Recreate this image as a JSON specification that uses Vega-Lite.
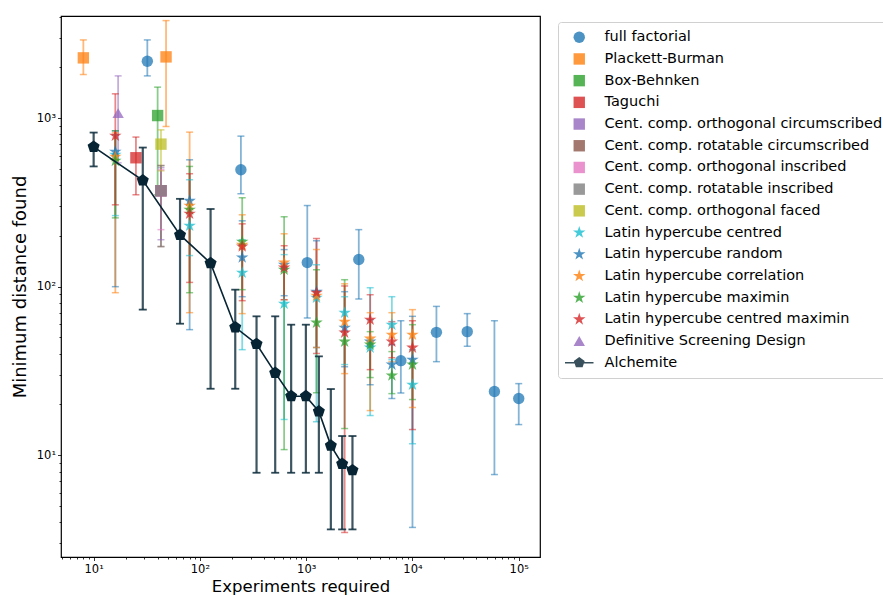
{
  "$schema": "https://vega.github.io/schema/vega-lite/v6.json",
  "width": 479,
  "height": 541,
  "autosize": {"type": "none"},
  "padding": {"left": 61, "top": 16, "right": 343, "bottom": 38},
  "background": "white",
  "config": {
    "font": "DejaVu Sans",
    "view": {"stroke": "#000", "strokeWidth": 1.2}
  },
  "datasets": {
    "d": [
      {"s": "full factorial", "x": 32, "y": 2177, "lo": 1781, "hi": 2911},
      {"s": "full factorial", "x": 243, "y": 494, "lo": 356, "hi": 782},
      {"s": "full factorial", "x": 1024, "y": 139, "lo": 65.2, "hi": 303},
      {"s": "full factorial", "x": 3125, "y": 145, "lo": 84.5, "hi": 218},
      {"s": "full factorial", "x": 7776, "y": 36.4, "lo": 23.4, "hi": 62.8},
      {"s": "full factorial", "x": 16807, "y": 53.6, "lo": 35.9, "hi": 76.4},
      {"s": "full factorial", "x": 32768, "y": 54.1, "lo": 44.3, "hi": 69.2},
      {"s": "full factorial", "x": 59049, "y": 23.9, "lo": 7.68, "hi": 62.8},
      {"s": "full factorial", "x": 100000, "y": 21.7, "lo": 15.2, "hi": 26.6},
      {"s": "Plackett-Burman", "x": 8, "y": 2278, "lo": 1814, "hi": 2911},
      {"s": "Plackett-Burman", "x": 48, "y": 2309, "lo": 892, "hi": 3790},
      {"s": "Box-Behnken", "x": 40, "y": 1036, "lo": 351, "hi": 1527},
      {"s": "Taguchi", "x": 25, "y": 582, "lo": 351, "hi": 772},
      {"s": "Cent. comp. orthogonal circumscribed", "x": 43, "y": 371, "lo": 190, "hi": 508},
      {"s": "Cent. comp. rotatable circumscribed", "x": 43, "y": 371, "lo": 173, "hi": 524},
      {"s": "Cent. comp. orthogonal inscribed", "x": 43, "y": 371, "lo": 218, "hi": 494},
      {"s": "Cent. comp. rotatable inscribed", "x": 43, "y": 371, "lo": 173, "hi": 522},
      {"s": "Cent. comp. orthogonal faced", "x": 43, "y": 701, "lo": 487, "hi": 852},
      {"s": "Latin hypercube centred", "x": 16, "y": 606, "lo": 264, "hi": 796},
      {"s": "Latin hypercube centred", "x": 80, "y": 230, "lo": 153, "hi": 431},
      {"s": "Latin hypercube centred", "x": 250, "y": 121, "lo": 42.3, "hi": 190},
      {"s": "Latin hypercube centred", "x": 620, "y": 79.3, "lo": 16.3, "hi": 155},
      {"s": "Latin hypercube centred", "x": 1250, "y": 86, "lo": 15.8, "hi": 135},
      {"s": "Latin hypercube centred", "x": 2300, "y": 70.1, "lo": 34.5, "hi": 87.2},
      {"s": "Latin hypercube centred", "x": 4000, "y": 43.5, "lo": 17.2, "hi": 98.6},
      {"s": "Latin hypercube centred", "x": 6400, "y": 59.5, "lo": 36.9, "hi": 87.2},
      {"s": "Latin hypercube centred", "x": 10000, "y": 26.2, "lo": 11.7, "hi": 42.3},
      {"s": "Latin hypercube random", "x": 16, "y": 631, "lo": 100, "hi": 841},
      {"s": "Latin hypercube random", "x": 80, "y": 323, "lo": 55.6, "hi": 566},
      {"s": "Latin hypercube random", "x": 250, "y": 149, "lo": 87.2, "hi": 246},
      {"s": "Latin hypercube random", "x": 620, "y": 135, "lo": 88.4, "hi": 166},
      {"s": "Latin hypercube random", "x": 1250, "y": 93.4, "lo": 43.5, "hi": 187},
      {"s": "Latin hypercube random", "x": 2300, "y": 57.1, "lo": 33.5, "hi": 93.4},
      {"s": "Latin hypercube random", "x": 4000, "y": 47.2, "lo": 26.2, "hi": 63.7},
      {"s": "Latin hypercube random", "x": 6400, "y": 34.5, "lo": 21.7, "hi": 45.3},
      {"s": "Latin hypercube random", "x": 10000, "y": 36.9, "lo": 3.73, "hi": 66.7},
      {"s": "Latin hypercube correlation", "x": 16, "y": 590, "lo": 92.1, "hi": 818},
      {"s": "Latin hypercube correlation", "x": 80, "y": 302, "lo": 70.1, "hi": 826},
      {"s": "Latin hypercube correlation", "x": 250, "y": 177, "lo": 69.2, "hi": 267},
      {"s": "Latin hypercube correlation", "x": 620, "y": 139, "lo": 83.7, "hi": 206},
      {"s": "Latin hypercube correlation", "x": 1250, "y": 88.4, "lo": 43.5, "hi": 166},
      {"s": "Latin hypercube correlation", "x": 2300, "y": 62, "lo": 30.5, "hi": 104},
      {"s": "Latin hypercube correlation", "x": 4000, "y": 49.2, "lo": 18.4, "hi": 70.1},
      {"s": "Latin hypercube correlation", "x": 6400, "y": 51.9, "lo": 35.9, "hi": 70.1},
      {"s": "Latin hypercube correlation", "x": 10000, "y": 51.9, "lo": 19.2, "hi": 73.1},
      {"s": "Latin hypercube maximin", "x": 16, "y": 558, "lo": 256, "hi": 841},
      {"s": "Latin hypercube maximin", "x": 80, "y": 286, "lo": 92.1, "hi": 517},
      {"s": "Latin hypercube maximin", "x": 250, "y": 185, "lo": 96, "hi": 337},
      {"s": "Latin hypercube maximin", "x": 620, "y": 126, "lo": 10.8, "hi": 260},
      {"s": "Latin hypercube maximin", "x": 1250, "y": 61.2, "lo": 23.5, "hi": 126},
      {"s": "Latin hypercube maximin", "x": 2300, "y": 47.2, "lo": 14.4, "hi": 110},
      {"s": "Latin hypercube maximin", "x": 4000, "y": 45.3, "lo": 28.9, "hi": 54.1},
      {"s": "Latin hypercube maximin", "x": 6400, "y": 29.7, "lo": 23.2, "hi": 41.2},
      {"s": "Latin hypercube maximin", "x": 10000, "y": 34.5, "lo": 21.4, "hi": 59.5},
      {"s": "Latin hypercube centred maximin", "x": 16, "y": 786, "lo": 306, "hi": 1394},
      {"s": "Latin hypercube centred maximin", "x": 80, "y": 271, "lo": 106, "hi": 468},
      {"s": "Latin hypercube centred maximin", "x": 250, "y": 173, "lo": 82.6, "hi": 236},
      {"s": "Latin hypercube centred maximin", "x": 620, "y": 130, "lo": 83.7, "hi": 175},
      {"s": "Latin hypercube centred maximin", "x": 1250, "y": 92.1, "lo": 40.1, "hi": 193},
      {"s": "Latin hypercube centred maximin", "x": 2300, "y": 53.4, "lo": 3.48, "hi": 101},
      {"s": "Latin hypercube centred maximin", "x": 4000, "y": 63.7, "lo": 32.2, "hi": 89.6},
      {"s": "Latin hypercube centred maximin", "x": 6400, "y": 47.2, "lo": 37.9, "hi": 62},
      {"s": "Latin hypercube centred maximin", "x": 10000, "y": 43.5, "lo": 14.2, "hi": 62.8},
      {"s": "Definitive Screening Design", "x": 17, "y": 1071, "lo": 543, "hi": 1781},
      {"s": "Alchemite", "x": 10, "y": 676, "lo": 517, "hi": 821},
      {"s": "Alchemite", "x": 29, "y": 427, "lo": 73.1, "hi": 669},
      {"s": "Alchemite", "x": 65, "y": 203, "lo": 60.3, "hi": 332},
      {"s": "Alchemite", "x": 126, "y": 138, "lo": 24.8, "hi": 289},
      {"s": "Alchemite", "x": 215, "y": 57.4, "lo": 24.8, "hi": 96},
      {"s": "Alchemite", "x": 341, "y": 45.7, "lo": 7.87, "hi": 66.7},
      {"s": "Alchemite", "x": 511, "y": 30.8, "lo": 7.87, "hi": 66.7},
      {"s": "Alchemite", "x": 722, "y": 22.4, "lo": 7.87, "hi": 59.5},
      {"s": "Alchemite", "x": 993, "y": 22.4, "lo": 7.87, "hi": 59.5},
      {"s": "Alchemite", "x": 1316, "y": 18.2, "lo": 7.87, "hi": 38.6},
      {"s": "Alchemite", "x": 1706, "y": 11.4, "lo": 3.63, "hi": 24.7},
      {"s": "Alchemite", "x": 2180, "y": 8.89, "lo": 3.63, "hi": 13},
      {"s": "Alchemite", "x": 2725, "y": 8.15, "lo": 3.63, "hi": 13}
    ]
  },
  "data": {"name": "d"},
  "encoding": {
    "x": {
      "field": "x",
      "type": "quantitative",
      "title": "Experiments required",
      "scale": {"type": "log", "domain": [4.93, 158500], "nice": false},
      "axis": {
        "values": [5,6,7,8,9,10,20,30,40,50,60,70,80,90,100,200,300,400,500,600,700,800,900,1000,2000,3000,4000,5000,6000,7000,8000,9000,10000,20000,30000,40000,50000,60000,70000,80000,90000,100000],
        "labelExpr": "abs(log(datum.value)/LN10 - round(log(datum.value)/LN10)) < 1e-6 ? '10' + ['⁰','¹','²','³','⁴','⁵','⁶'][round(log(datum.value)/LN10)] : ''",
        "tickSize": {"condition": {"test": "abs(log(datum.value)/LN10 - round(log(datum.value)/LN10)) < 1e-6", "value": 3.5}, "value": 2},
        "tickColor": "#000",
        "tickWidth": 0.8,
        "domain": false,
        "grid": false,
        "labelFont": "DejaVu Sans",
        "labelFontSize": 11.5,
        "labelColor": "#000",
        "labelPadding": 3,
        "labelOverlap": false,
        "labelFlush": false,
        "titleFont": "DejaVu Sans",
        "titleFontSize": 16.5,
        "titleFontWeight": "normal",
        "titleColor": "#000",
        "titlePadding": 3
      }
    }
  },
  "layer": [
    {
      "transform": [{"filter": "datum.s !== 'Alchemite'"}],
      "mark": {"type": "rule", "strokeWidth": 1.8, "opacity": 0.55},
      "encoding": {
        "y": {
          "field": "lo", "type": "quantitative", "title": "Minimum distance found",
          "scale": {"type": "log", "domain": [2.49, 4036], "nice": false},
          "axis": {
            "values": [3,4,5,6,7,8,9,10,20,30,40,50,60,70,80,90,100,200,300,400,500,600,700,800,900,1000,2000,3000,4000],
            "labelExpr": "abs(log(datum.value)/LN10 - round(log(datum.value)/LN10)) < 1e-6 ? '10' + ['⁰','¹','²','³','⁴','⁵','⁶'][round(log(datum.value)/LN10)] : ''",
            "tickSize": {"condition": {"test": "abs(log(datum.value)/LN10 - round(log(datum.value)/LN10)) < 1e-6", "value": 3.5}, "value": 2},
            "tickColor": "#000",
            "tickWidth": 0.8,
            "domain": false,
            "grid": false,
            "labelFont": "DejaVu Sans",
            "labelFontSize": 11.5,
            "labelColor": "#000",
            "labelPadding": 2,
            "labelOverlap": false,
            "labelFlush": false,
            "titleFont": "DejaVu Sans",
            "titleFontSize": 18,
            "titleFontWeight": "normal",
            "titleColor": "#000",
            "titlePadding": 7
          }
        },
        "y2": {"field": "hi"},
        "stroke": {
          "field": "s", "type": "nominal", "legend": null,
          "scale": {
            "domain": ["full factorial","Plackett-Burman","Box-Behnken","Taguchi","Cent. comp. orthogonal circumscribed","Cent. comp. rotatable circumscribed","Cent. comp. orthogonal inscribed","Cent. comp. rotatable inscribed","Cent. comp. orthogonal faced","Latin hypercube centred","Latin hypercube random","Latin hypercube correlation","Latin hypercube maximin","Latin hypercube centred maximin","Definitive Screening Design"],
            "range": ["#1f77b4","#ff7f0e","#2ca02c","#d62728","#9467bd","#8c564b","#e377c2","#7f7f7f","#bcbd22","#17becf","#1f77b4","#ff7f0e","#2ca02c","#d62728","#9467bd"]
          }
        }
      }
    },
    {
      "transform": [{"filter": "datum.s !== 'Alchemite'"}],
      "mark": {"type": "tick", "orient": "horizontal", "size": 7, "thickness": 1.5, "opacity": 0.55},
      "encoding": {
        "y": {"field": "lo", "type": "quantitative", "title": "Minimum distance found", "scale": {"type": "log", "domain": [2.49, 4036], "nice": false}},
        "fill": {
          "field": "s", "type": "nominal", "legend": null,
          "scale": {
            "domain": ["full factorial","Plackett-Burman","Box-Behnken","Taguchi","Cent. comp. orthogonal circumscribed","Cent. comp. rotatable circumscribed","Cent. comp. orthogonal inscribed","Cent. comp. rotatable inscribed","Cent. comp. orthogonal faced","Latin hypercube centred","Latin hypercube random","Latin hypercube correlation","Latin hypercube maximin","Latin hypercube centred maximin","Definitive Screening Design"],
            "range": ["#1f77b4","#ff7f0e","#2ca02c","#d62728","#9467bd","#8c564b","#e377c2","#7f7f7f","#bcbd22","#17becf","#1f77b4","#ff7f0e","#2ca02c","#d62728","#9467bd"]
          }
        }
      }
    },
    {
      "transform": [{"filter": "datum.s !== 'Alchemite'"}],
      "mark": {"type": "tick", "orient": "horizontal", "size": 7, "thickness": 1.5, "opacity": 0.55},
      "encoding": {
        "y": {"field": "hi", "type": "quantitative", "title": "Minimum distance found", "scale": {"type": "log", "domain": [2.49, 4036], "nice": false}},
        "fill": {
          "field": "s", "type": "nominal", "legend": null,
          "scale": {
            "domain": ["full factorial","Plackett-Burman","Box-Behnken","Taguchi","Cent. comp. orthogonal circumscribed","Cent. comp. rotatable circumscribed","Cent. comp. orthogonal inscribed","Cent. comp. rotatable inscribed","Cent. comp. orthogonal faced","Latin hypercube centred","Latin hypercube random","Latin hypercube correlation","Latin hypercube maximin","Latin hypercube centred maximin","Definitive Screening Design"],
            "range": ["#1f77b4","#ff7f0e","#2ca02c","#d62728","#9467bd","#8c564b","#e377c2","#7f7f7f","#bcbd22","#17becf","#1f77b4","#ff7f0e","#2ca02c","#d62728","#9467bd"]
          }
        }
      }
    },
    {
      "transform": [{"filter": "datum.s !== 'Alchemite'"}],
      "mark": {"type": "point", "filled": true, "opacity": 0.75, "size": 130, "strokeWidth": 0},
      "encoding": {
        "y": {"field": "y", "type": "quantitative", "title": "Minimum distance found", "scale": {"type": "log", "domain": [2.49, 4036], "nice": false}},
        "color": {
          "field": "s", "type": "nominal", "title": null,
          "legend": {
            "orient": "none", "legendX": 497, "legendY": 6,
            "labelFont": "DejaVu Sans", "labelFontSize": 14.5, "labelColor": "#000",
            "padding": 8, "strokeColor": "#d0d0d0", "fillColor": "white", "cornerRadius": 3,
            "symbolSize": 130, "symbolOffset": 6, "labelOffset": 18, "rowPadding": 6.7,
            "symbolStrokeWidth": 0, "symbolOpacity": 0.8, "labelLimit": 500
          },
          "scale": {
            "domain": ["full factorial","Plackett-Burman","Box-Behnken","Taguchi","Cent. comp. orthogonal circumscribed","Cent. comp. rotatable circumscribed","Cent. comp. orthogonal inscribed","Cent. comp. rotatable inscribed","Cent. comp. orthogonal faced","Latin hypercube centred","Latin hypercube random","Latin hypercube correlation","Latin hypercube maximin","Latin hypercube centred maximin","Definitive Screening Design","Alchemite"],
            "range": ["#1f77b4","#ff7f0e","#2ca02c","#d62728","#9467bd","#8c564b","#e377c2","#7f7f7f","#bcbd22","#17becf","#1f77b4","#ff7f0e","#2ca02c","#d62728","#9467bd","#062433"]
          }
        },
        "shape": {
          "field": "s", "type": "nominal", "title": null,
          "legend": {
            "orient": "none", "legendX": 497, "legendY": 6,
            "labelFont": "DejaVu Sans", "labelFontSize": 14.5, "labelColor": "#000",
            "padding": 8, "strokeColor": "#d0d0d0", "fillColor": "white", "cornerRadius": 3,
            "symbolSize": 130, "symbolOffset": 6, "labelOffset": 18, "rowPadding": 6.7,
            "symbolStrokeWidth": 0, "symbolOpacity": 0.8, "labelLimit": 500
          },
          "scale": {
            "domain": ["full factorial","Plackett-Burman","Box-Behnken","Taguchi","Cent. comp. orthogonal circumscribed","Cent. comp. rotatable circumscribed","Cent. comp. orthogonal inscribed","Cent. comp. rotatable inscribed","Cent. comp. orthogonal faced","Latin hypercube centred","Latin hypercube random","Latin hypercube correlation","Latin hypercube maximin","Latin hypercube centred maximin","Definitive Screening Design","Alchemite"],
            "range": ["circle","square","square","square","square","square","square","square","square",
              "M0,-1.15L0.258,-0.355L1.094,-0.355L0.417,0.136L0.676,0.93L0,0.439L-0.676,0.93L-0.417,0.136L-1.094,-0.355L-0.258,-0.355Z",
              "M0,-1.15L0.258,-0.355L1.094,-0.355L0.417,0.136L0.676,0.93L0,0.439L-0.676,0.93L-0.417,0.136L-1.094,-0.355L-0.258,-0.355Z",
              "M0,-1.15L0.258,-0.355L1.094,-0.355L0.417,0.136L0.676,0.93L0,0.439L-0.676,0.93L-0.417,0.136L-1.094,-0.355L-0.258,-0.355Z",
              "M0,-1.15L0.258,-0.355L1.094,-0.355L0.417,0.136L0.676,0.93L0,0.439L-0.676,0.93L-0.417,0.136L-1.094,-0.355L-0.258,-0.355Z",
              "M0,-1.15L0.258,-0.355L1.094,-0.355L0.417,0.136L0.676,0.93L0,0.439L-0.676,0.93L-0.417,0.136L-1.094,-0.355L-0.258,-0.355Z",
              "triangle-up",
              "M-2.5,-0.13L2.5,-0.13L2.5,0.13L-2.5,0.13Z M0,-1L0.951,-0.309L0.588,0.809L-0.588,0.809L-0.951,-0.309Z"]
          }
        }
      }
    },
    {
      "transform": [{"filter": "datum.s === 'Alchemite'"}],
      "mark": {"type": "rule", "strokeWidth": 2.2, "opacity": 0.8, "color": "#0b2a3a"},
      "encoding": {
        "y": {"field": "lo", "type": "quantitative", "title": "Minimum distance found", "scale": {"type": "log", "domain": [2.49, 4036], "nice": false}},
        "y2": {"field": "hi"}
      }
    },
    {
      "transform": [{"filter": "datum.s === 'Alchemite'"}],
      "mark": {"type": "tick", "orient": "horizontal", "size": 8, "thickness": 1.8, "opacity": 0.85, "color": "#0b2a3a"},
      "encoding": {
        "y": {"field": "lo", "type": "quantitative", "title": "Minimum distance found", "scale": {"type": "log", "domain": [2.49, 4036], "nice": false}}
      }
    },
    {
      "transform": [{"filter": "datum.s === 'Alchemite'"}],
      "mark": {"type": "tick", "orient": "horizontal", "size": 8, "thickness": 1.8, "opacity": 0.85, "color": "#0b2a3a"},
      "encoding": {
        "y": {"field": "hi", "type": "quantitative", "title": "Minimum distance found", "scale": {"type": "log", "domain": [2.49, 4036], "nice": false}}
      }
    },
    {
      "transform": [{"filter": "datum.s === 'Alchemite'"}],
      "mark": {"type": "line", "strokeWidth": 1.6, "color": "#062433"},
      "encoding": {
        "y": {"field": "y", "type": "quantitative", "title": "Minimum distance found", "scale": {"type": "log", "domain": [2.49, 4036], "nice": false}}
      }
    },
    {
      "transform": [{"filter": "datum.s === 'Alchemite'"}],
      "mark": {"type": "point", "filled": true, "opacity": 1, "size": 160, "strokeWidth": 0, "color": "#062433",
        "shape": "M0,-1L0.951,-0.309L0.588,0.809L-0.588,0.809L-0.951,-0.309Z"},
      "encoding": {
        "y": {"field": "y", "type": "quantitative", "title": "Minimum distance found", "scale": {"type": "log", "domain": [2.49, 4036], "nice": false}}
      }
    }
  ]
}
